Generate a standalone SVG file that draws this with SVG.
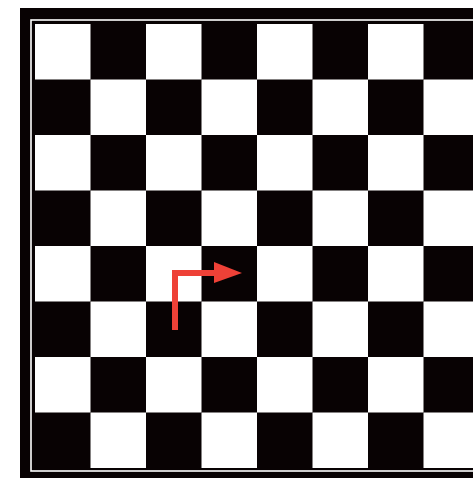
<svg xmlns="http://www.w3.org/2000/svg" xmlns:xlink="http://www.w3.org/1999/xlink" width="473" height="478" viewBox="0 0 473 478">
  <style>
    .frame { fill: #080203; }
    .inner { fill: none; stroke: #ffffff; stroke-width: 1.6; }
    .sq { fill: #ffffff; }
    .arrow-line { fill: none; stroke: #ee4137; stroke-width: 6; stroke-linejoin: miter; }
    .arrow-head { fill: #ee4137; }
  </style>
  <defs>
    <rect id="w" class="sq" width="55.5" height="55.5"/>
  </defs>
  <rect width="473" height="478" fill="#ffffff"/>
  <g id="board">
    <rect class="frame" x="20" y="8" width="470" height="480"/>
    <rect class="inner" x="31" y="20" width="470" height="451"/>
    <g id="white-squares">
      <use xlink:href="#w" x="35" y="24"/><use xlink:href="#w" x="146" y="24"/><use xlink:href="#w" x="257" y="24"/><use xlink:href="#w" x="368" y="24"/>
      <use xlink:href="#w" x="90.5" y="79.5"/><use xlink:href="#w" x="201.5" y="79.5"/><use xlink:href="#w" x="312.5" y="79.5"/><use xlink:href="#w" x="423.5" y="79.5"/>
      <use xlink:href="#w" x="35" y="135"/><use xlink:href="#w" x="146" y="135"/><use xlink:href="#w" x="257" y="135"/><use xlink:href="#w" x="368" y="135"/>
      <use xlink:href="#w" x="90.5" y="190.5"/><use xlink:href="#w" x="201.5" y="190.5"/><use xlink:href="#w" x="312.5" y="190.5"/><use xlink:href="#w" x="423.5" y="190.5"/>
      <use xlink:href="#w" x="35" y="246"/><use xlink:href="#w" x="146" y="246"/><use xlink:href="#w" x="257" y="246"/><use xlink:href="#w" x="368" y="246"/>
      <use xlink:href="#w" x="90.5" y="301.5"/><use xlink:href="#w" x="201.5" y="301.5"/><use xlink:href="#w" x="312.5" y="301.5"/><use xlink:href="#w" x="423.5" y="301.5"/>
      <use xlink:href="#w" x="35" y="357"/><use xlink:href="#w" x="146" y="357"/><use xlink:href="#w" x="257" y="357"/><use xlink:href="#w" x="368" y="357"/>
      <use xlink:href="#w" x="90.5" y="412.5"/><use xlink:href="#w" x="201.5" y="412.5"/><use xlink:href="#w" x="312.5" y="412.5"/><use xlink:href="#w" x="423.5" y="412.5"/>
    </g>
  </g>
  <g id="arrow">
    <path class="arrow-line" d="M175,330 V273 H216"/>
    <polygon class="arrow-head" points="214,262 242,273 214,283"/>
  </g>
</svg>
